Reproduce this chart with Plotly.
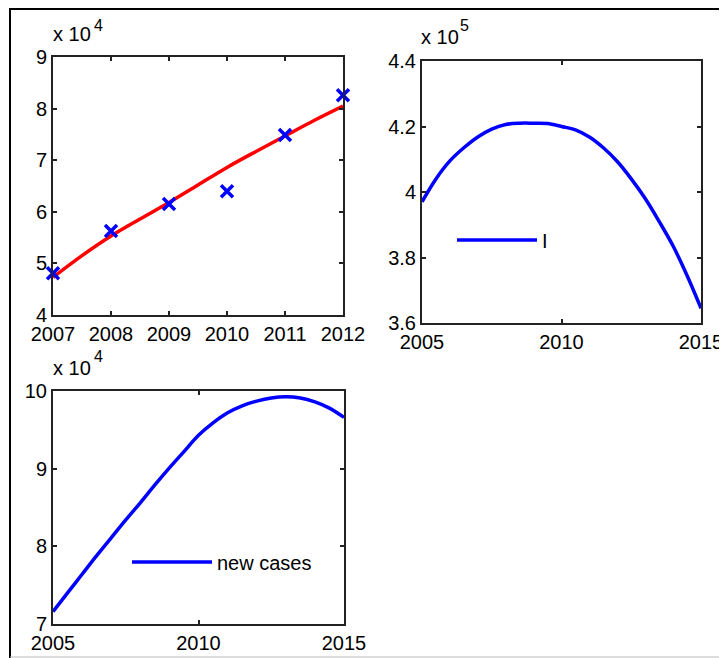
import plotly.graph_objects as go

# ---- data ----
obs_years = [2007, 2008, 2009, 2010, 2011, 2012]
obs_values = [48100, 56300, 61500, 64000, 74900, 82600]

fit_years = [2007, 2007.5, 2008, 2008.5, 2009, 2009.5, 2010, 2010.5, 2011, 2011.5, 2012]
fit_values = [47300, 51500, 55300, 58600, 61800, 65200, 68600, 71700, 74700, 77700, 80500]

i_years = [2005, 2005.5, 2006, 2006.5, 2007, 2007.5, 2008, 2008.5, 2009, 2009.5, 2010,
           2010.5, 2011, 2011.5, 2012, 2012.5, 2013, 2013.5, 2014, 2014.5, 2015]
i_values = [397000, 404000, 409500, 413500, 416800, 419200, 420600, 421000, 421000, 420900, 420000,
            419000, 416800, 413500, 409300, 404000, 398000, 391000, 383500, 374500, 364500]

nc_years = i_years
nc_values = [71600, 74000, 76400, 78800, 81100, 83400, 85600, 87900, 90100, 92200, 94300,
             95900, 97200, 98100, 98700, 99100, 99250, 99100, 98600, 97800, 96600]

# tick labels
t1_vals = [40000, 50000, 60000, 70000, 80000, 90000]
t1_text = ["4", "5", "6", "7", "8", "9"]
t2_vals = [360000, 380000, 400000, 420000, 440000]
t2_text = ["3.6", "3.8", "4", "4.2", "4.4"]
t3_vals = [70000, 80000, 90000, 100000]
t3_text = ["7", "8", "9", "10"]
x1_vals = [2007, 2008, 2009, 2010, 2011, 2012]
x2_vals = [2005, 2010, 2015]
exp_labels = ["4", "5", "4"]

# the page body has an 8px margin, so the figure is 8px smaller than the window
OFF = 8
W, H = 727 - OFF, 658 - OFF
FONT = dict(family="Liberation Sans, Arial, sans-serif", size=20, color="black")
EXPFONT = dict(family="Liberation Sans, Arial, sans-serif", size=16, color="black")

fig = go.Figure()

fig.add_trace(go.Scatter(x=fit_years, y=fit_values, mode="lines", line=dict(color="red", width=3.5, shape="spline"),
                         xaxis="x", yaxis="y", showlegend=False))
fig.add_trace(go.Scatter(x=obs_years, y=obs_values, mode="markers",
                         marker=dict(symbol="x-thin", size=12, line=dict(color="blue", width=3.5), color="blue"),
                         xaxis="x", yaxis="y", showlegend=False, cliponaxis=False))
fig.add_trace(go.Scatter(x=i_years, y=i_values, mode="lines", name="I",
                         line=dict(color="blue", width=3.5, shape="spline"),
                         xaxis="x2", yaxis="y2", legend="legend"))
fig.add_trace(go.Scatter(x=nc_years, y=nc_values, mode="lines", name="new cases",
                         line=dict(color="blue", width=3.5, shape="spline"),
                         xaxis="x3", yaxis="y3", legend="legend2"))

def px(x):
    return (x - OFF) / W

def py(y):
    return 1 - (y - OFF) / H

axis_common = dict(showline=True, linecolor="#222", linewidth=2, mirror="ticks", ticks="inside",
                   ticklen=4, tickwidth=1.5, tickcolor="#222", showgrid=False, zeroline=False,
                   tickfont=FONT, automargin=False)

annotations = []
for (bx, by, ex, ey), e in zip([(51, 47, 92, 36), (419, 50, 458, 36), (51, 381, 92, 367)], exp_labels):
    annotations.append(dict(text="x 10", x=px(bx), y=py(by), xref="paper", yref="paper", xanchor="left",
                            yanchor="bottom", showarrow=False, font=FONT))
    annotations.append(dict(text=e, x=px(ex), y=py(ey), xref="paper", yref="paper", xanchor="left",
                            yanchor="bottom", showarrow=False, font=EXPFONT))

fig.update_layout(
    template="none",
    width=W, height=H, margin=dict(l=0, r=0, t=0, b=0, pad=0),
    paper_bgcolor="white", plot_bgcolor="white", font=FONT,
    xaxis=dict(domain=[px(53), px(343)], range=[2007, 2012], tickvals=x1_vals, anchor="y", **axis_common),
    yaxis=dict(domain=[py(315), py(57)], range=[40000, 90000], tickvals=t1_vals, ticktext=t1_text, anchor="x", **axis_common),
    xaxis2=dict(domain=[px(422), px(701)], range=[2005, 2015], tickvals=x2_vals, anchor="y2", **axis_common),
    yaxis2=dict(domain=[py(323), py(61)], range=[360000, 440000], tickvals=t2_vals, ticktext=t2_text, anchor="x2", **axis_common),
    xaxis3=dict(domain=[px(53), px(344)], range=[2005, 2015], tickvals=x2_vals, anchor="y3", **axis_common),
    yaxis3=dict(domain=[py(624), py(391)], range=[70000, 100000], tickvals=t3_vals, ticktext=t3_text, anchor="x3", **axis_common),
    legend=dict(x=px(452), y=py(240), xanchor="left", yanchor="middle", bgcolor="rgba(0,0,0,0)",
                borderwidth=0, itemwidth=80, font=FONT),
    legend2=dict(x=px(127), y=py(562), xanchor="left", yanchor="middle", bgcolor="rgba(0,0,0,0)",
                 borderwidth=0, itemwidth=80, font=FONT),
    annotations=annotations,
    shapes=[
        dict(type="line", xref="paper", yref="paper", x0=px(10), x1=1, y0=py(9), y1=py(9),
             line=dict(color="black", width=2)),
        dict(type="line", xref="paper", yref="paper", x0=px(10), x1=px(10), y0=py(8), y1=0,
             line=dict(color="black", width=2)),
        dict(type="line", xref="paper", yref="paper", x0=px(10), x1=1, y0=py(657), y1=py(657),
             line=dict(color="#bbbbbb", width=1)),
    ],
)

fig.write_html("out.html")
